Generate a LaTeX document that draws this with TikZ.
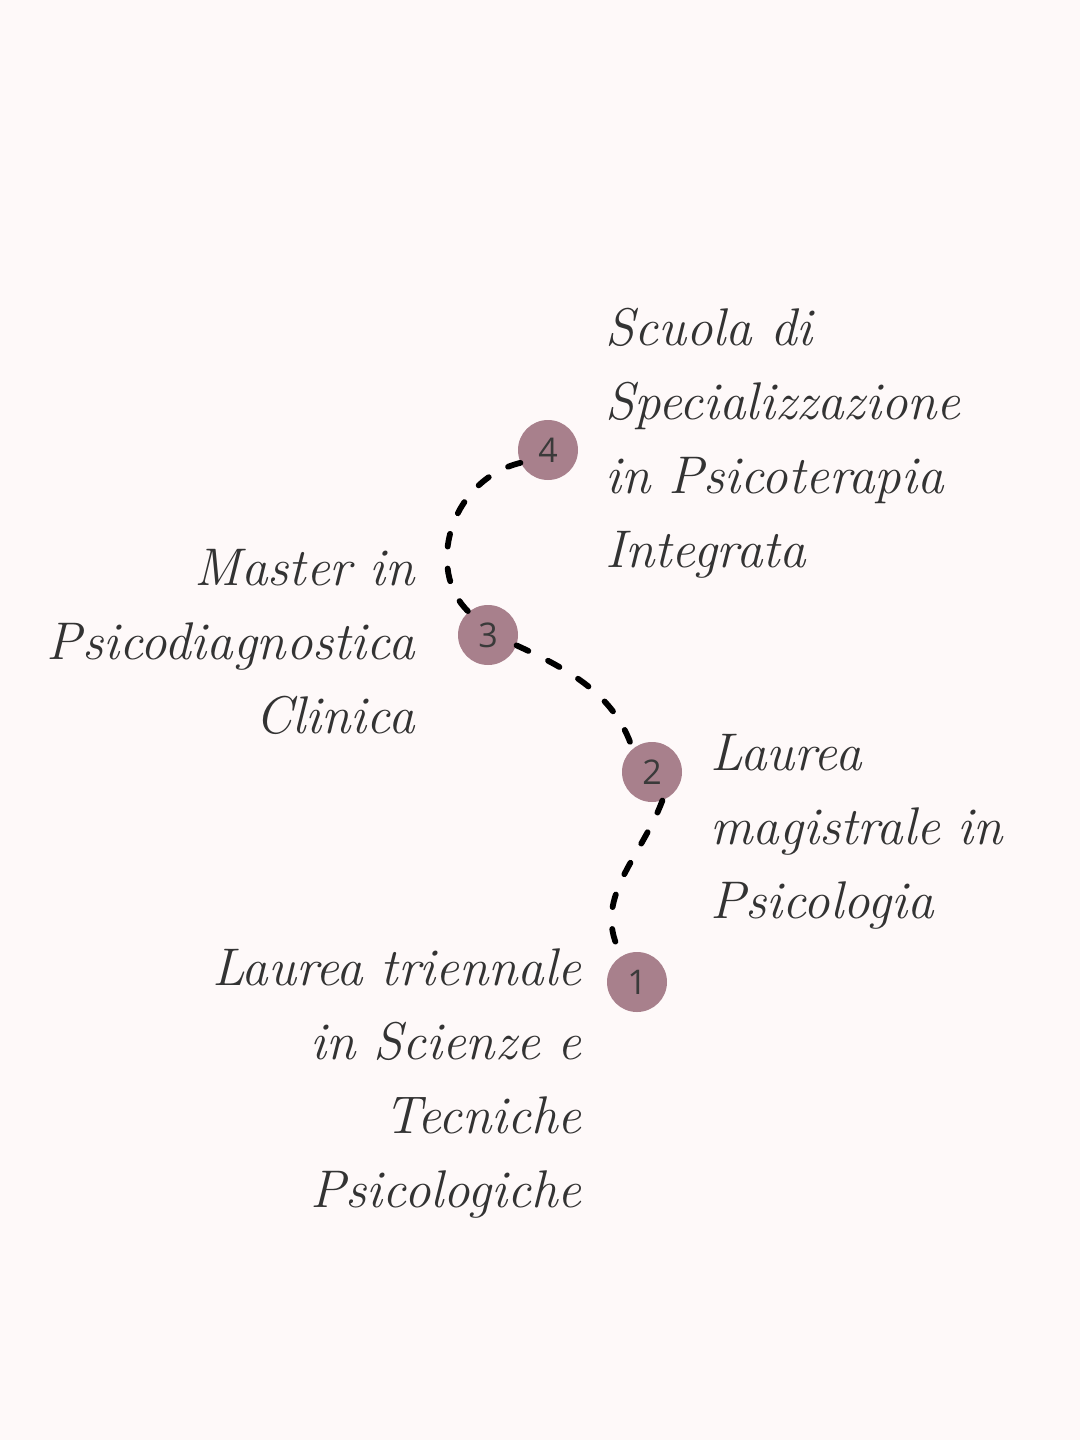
\documentclass[tikz,border=0pt]{standalone}
\usepackage{fontspec}
\newfontfamily\numfont{Open Sans}
\definecolor{bgc}{HTML}{FEF9F9}
\definecolor{blob}{HTML}{A8808C}
\definecolor{numc}{HTML}{3A3A3A}
\definecolor{txtc}{HTML}{333333}
\begin{document}
\begin{tikzpicture}[x=0.5pt,y=-0.5pt,
  blobnode/.style={circle,fill=blob,minimum size=30pt,inner sep=0pt,font=\numfont\fontsize{17}{17}\selectfont,text=numc},
  path/.style={draw=black,line width=2.9pt,line cap=round,dash pattern=on 6.5pt off 11pt},
  lab/.style={inner sep=0pt,text=txtc,font=\itshape\fontsize{26.5}{37}\selectfont,text width=220pt}]
\fill[bgc] (0,0) rectangle (1080,1440);
\useasboundingbox (0,0) rectangle (1080,1440);
\node[blobnode] (b4) at (548,450) {4};
\node[blobnode] (b3) at (488,635) {3};
\node[blobnode] (b2) at (652,772) {2};
\node[blobnode] (b1) at (637,982) {1};
\draw[path] (b4.205) .. controls (450,480) and (425,570) .. (b3.130);
\draw[path] (b3.-20) .. controls (570,670) and (615,695) .. (b2.130);
\draw[path] (b2.-70) .. controls (640,860) and (590,900) .. (b1.120);
\node[lab,align=left,anchor=base west] (t4) at (605,345) {Scuola di\\Specializzazione\\in Psicoterapia\\Integrata};
\node[lab,align=right,anchor=base east] (t3) at (415,585) {Master in\\Psicodiagnostica\\Clinica};
\node[lab,align=left,anchor=base west] (t2) at (710,770) {Laurea\\magistrale in\\Psicologia};
\node[lab,align=right,anchor=base east] (t1) at (582,985) {Laurea triennale\\in Scienze e\\Tecniche\\Psicologiche};
\end{tikzpicture}
\end{document}
